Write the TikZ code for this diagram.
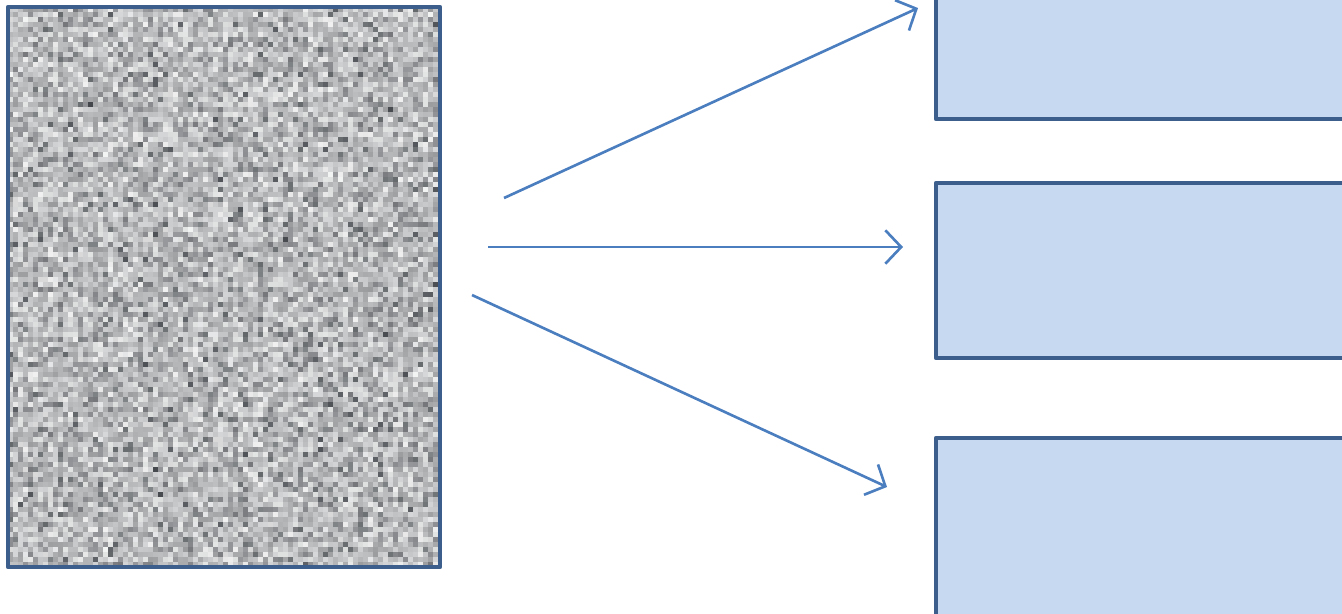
\documentclass[tikz,border=0pt]{standalone}
\usetikzlibrary{arrows.meta,positioning}
\definecolor{frameBlue}{HTML}{3B5E8C}
\definecolor{boxFill}{HTML}{C6D9F1}
\definecolor{arrowBlue}{HTML}{4A7EBF}
\definecolor{speck}{HTML}{2A2E33}

\begin{document}
\begin{tikzpicture}[x=0.1mm, y=-0.1mm,
  frame/.style={draw=frameBlue, line width=1.3pt, line join=round},
  outbox/.style={frame, fill=boxFill, inner sep=0pt, outer sep=0pt,
    minimum width=41.6mm, anchor=north west},
  flow/.style={arrowBlue, line width=0.75pt, -{Straight Barb[length=4.5pt, width=9.5pt]}}]
  \useasboundingbox (0,0) rectangle (1342,613);
  \clip (0,0) rectangle (1342,613);

  % Noisy image on the left
  \path node[inner sep=0pt, outer sep=0pt, anchor=north west,
    minimum width=43.2mm, minimum height=56mm] (image) at (8,7) {};
  \pgfmathsetseed{4242}
  \begin{scope}
    \clip (image.north west) rectangle (image.south east);
    \fill[speck!40] (image.north west) rectangle (image.south east);
    \foreach \i in {0,...,86} {
      \foreach \j in {0,...,112} {
        \pgfmathsetmacro\g{int(6+55*rnd*rnd+30*rnd)}
        \fill[speck!\g] (8+\i*5, 7+\j*5) rectangle ++(5,5);
      }
    }
  \end{scope}
  \draw[frame] (image.north west) rectangle (image.south east);

  % Output boxes
  \node[outbox, minimum height=12.9mm] (outA) at (936,-10) {};
  \node[outbox, minimum height=17.5mm] (outB) at (936,183) {};
  \node[outbox, minimum height=18.5mm] (outC) at (936,438) {};

  % Arrows
  \coordinate (startA) at (504,198);
  \coordinate (startB) at (488,247);
  \coordinate (startC) at (472,295);
  \coordinate (tipA) at (918,8);
  \coordinate (tipB) at (903,247);
  \coordinate (tipC) at (887,487);
  \draw[flow] (startA) -- (tipA);
  \draw[flow] (startB) -- (tipB);
  \draw[flow] (startC) -- (tipC);
\end{tikzpicture}
\end{document}
